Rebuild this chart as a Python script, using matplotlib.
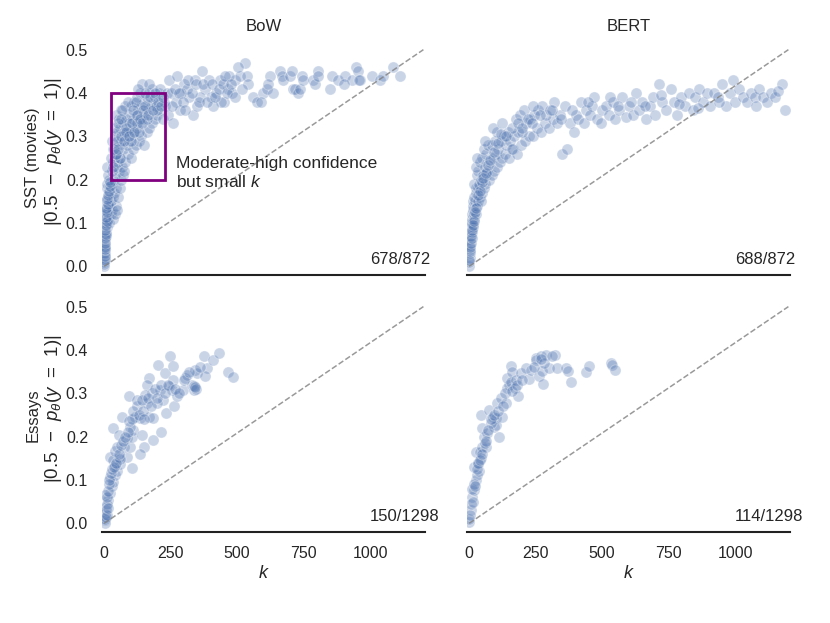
import numpy as np
import matplotlib
matplotlib.use("Agg")
import matplotlib.pyplot as plt
import seaborn as sns
from matplotlib.patches import Rectangle

# values (k, |0.5 - p|)
sst_bow_k = [0, 1, 2, 1, 3, 2, 4, 5, 3, 6,
             8, 4, 10, 7, 12, 5, 14, 9, 16, 11,
             20, 13, 25, 18, 30, 6, 35, 22, 40, 15,
             44, 27, 8, 33, 48, 19, 38, 12, 26, 52,
             45, 31, 10, 58, 36, 20, 62, 41, 15, 55,
             28, 70, 48, 12, 66, 34, 52, 75, 24, 40,
             60, 80, 45, 90, 35, 70, 100, 55, 85, 30,
             110, 65, 95, 42, 120, 75, 50, 105, 130, 88,
             140, 60, 115, 40, 98, 150, 72, 125, 55, 160,
             82, 135, 108, 45, 170, 92, 145, 65, 118, 180,
             155, 78, 128, 190, 100, 165, 52, 140, 200, 112,
             175, 88, 210, 150, 125, 220, 185, 160, 68, 195,
             215, 135, 230, 170, 205, 142, 225, 180, 240, 118,
             38, 58, 48, 76, 102, 132, 94, 62, 84, 145,
             122, 162, 108, 190, 210, 168, 235, 200, 154, 126,
             250, 260, 270, 245, 285, 300, 275, 320, 335, 310,
             350, 290, 368, 380, 340, 400, 420, 395, 436, 360,
             467, 450, 492, 480, 510, 530, 537, 542, 505, 560,
             575, 598, 612, 624, 590, 635, 617, 440, 410, 470,
             662, 669, 673, 699, 706, 711, 718, 730, 737, 744,
             748, 786, 793, 805, 805, 850, 857, 880, 906, 932,
             947, 955, 962, 1006, 1038, 1049, 1086, 1113, 959, 900,
             255, 265, 280, 295, 305, 315, 330, 345, 355, 370,
             385, 405, 415, 430, 445, 455, 460, 475, 490, 520,
             1, 2, 3, 2, 4, 3, 5, 6, 4, 7,
             9, 6, 11, 8, 13, 10, 15, 17, 21, 23,
             33, 43, 53, 63, 73, 83, 93, 103, 113, 123,
             133, 143, 153, 163, 173, 183, 193, 203, 213, 223]
sst_bow_v = [0.00, 0.01, 0.02, 0.03, 0.03, 0.05, 0.04, 0.06, 0.07, 0.08,
             0.07, 0.09, 0.09, 0.10, 0.10, 0.11, 0.12, 0.12, 0.11, 0.13,
             0.10, 0.14, 0.12, 0.14, 0.13, 0.13, 0.11, 0.15, 0.12, 0.16,
             0.14, 0.15, 0.15, 0.16, 0.13, 0.17, 0.17, 0.18, 0.18, 0.16,
             0.18, 0.19, 0.19, 0.18, 0.20, 0.20, 0.20, 0.21, 0.21, 0.22,
             0.22, 0.21, 0.23, 0.23, 0.23, 0.24, 0.24, 0.22, 0.25, 0.25,
             0.25, 0.24, 0.26, 0.26, 0.27, 0.27, 0.25, 0.28, 0.28, 0.29,
             0.27, 0.29, 0.29, 0.30, 0.28, 0.30, 0.31, 0.30, 0.29, 0.31,
             0.30, 0.32, 0.31, 0.32, 0.32, 0.28, 0.33, 0.32, 0.34, 0.31,
             0.34, 0.33, 0.34, 0.35, 0.32, 0.35, 0.34, 0.36, 0.35, 0.33,
             0.35, 0.37, 0.36, 0.34, 0.37, 0.36, 0.33, 0.37, 0.35, 0.38,
             0.37, 0.38, 0.36, 0.38, 0.39, 0.34, 0.38, 0.39, 0.36, 0.37,
             0.39, 0.40, 0.37, 0.40, 0.40, 0.42, 0.38, 0.41, 0.35, 0.38,
             0.27, 0.25, 0.29, 0.31, 0.29, 0.31, 0.33, 0.34, 0.32, 0.36,
             0.33, 0.34, 0.36, 0.39, 0.41, 0.42, 0.40, 0.36, 0.40, 0.41,
             0.40, 0.33, 0.38, 0.43, 0.36, 0.42, 0.44, 0.39, 0.35, 0.41,
             0.37, 0.40, 0.45, 0.41, 0.43, 0.39, 0.40, 0.43, 0.43, 0.39,
             0.41, 0.38, 0.43, 0.40, 0.44, 0.47, 0.44, 0.42, 0.46, 0.39,
             0.38, 0.40, 0.41, 0.44, 0.38, 0.40, 0.42, 0.38, 0.37, 0.44,
             0.45, 0.44, 0.43, 0.44, 0.45, 0.41, 0.41, 0.40, 0.41, 0.44,
             0.43, 0.43, 0.42, 0.45, 0.44, 0.41, 0.44, 0.43, 0.44, 0.43,
             0.46, 0.45, 0.43, 0.44, 0.43, 0.44, 0.46, 0.44, 0.43, 0.42,
             0.37, 0.41, 0.40, 0.38, 0.36, 0.43, 0.40, 0.42, 0.38, 0.42,
             0.38, 0.42, 0.39, 0.41, 0.42, 0.44, 0.40, 0.42, 0.39, 0.41,
             0.005, 0.015, 0.025, 0.04, 0.045, 0.055, 0.065, 0.075, 0.085, 0.095,
             0.105, 0.115, 0.125, 0.135, 0.145, 0.155, 0.165, 0.175, 0.185, 0.195,
             0.23, 0.26, 0.27, 0.30, 0.29, 0.31, 0.30, 0.33, 0.31, 0.35,
             0.34, 0.33, 0.37, 0.35, 0.39, 0.36, 0.40, 0.38, 0.37, 0.39]

sst_bert_k = [0, 1, 2, 3, 2, 4, 5, 4, 6, 7,
              8, 10, 6, 12, 9, 15, 11, 18, 14, 20,
              16, 25, 13, 22, 30, 19, 35, 27, 40, 24,
              45, 32, 50, 20, 38, 55, 28, 60, 44, 65,
              35, 52, 75, 25, 68, 42, 85, 58, 95, 48,
              78, 30, 105, 64, 90, 115, 55, 100, 125, 72,
              135, 85, 110, 150, 97, 140, 165, 120, 60, 180,
              130, 155, 105, 195, 145, 170, 210, 88, 185, 225,
              160, 200, 240, 125, 215, 175, 255, 230, 190, 270,
              205, 285, 245, 300, 220, 260, 315, 275, 330, 240,
              290, 350, 305, 369, 340, 320, 380, 360, 400, 395,
              420, 410, 440, 430, 460, 455, 480, 470, 500, 495,
              515, 525, 540, 550, 565, 575, 590, 600, 615, 627,
              640, 650, 665, 680, 690, 700, 713, 725, 740, 757,
              770, 780, 795, 810, 825, 840, 850, 865, 880, 895,
              905, 920, 935, 950, 965, 980, 993, 1000, 1015, 1030,
              1045, 1060, 1075, 1090, 1105, 1120, 1135, 1150, 1175, 1186,
              1, 3, 5, 7, 9, 11, 13, 17, 21, 26,
              33, 42, 47, 53, 63, 70, 80, 92, 110, 118,
              140, 160, 182, 198, 235, 265, 310, 345, 385, 445,
              530, 560, 610, 660, 720, 790, 860, 940, 1080, 1160]
sst_bert_v = [0.00, 0.01, 0.02, 0.03, 0.04, 0.05, 0.06, 0.07, 0.08, 0.07,
              0.09, 0.08, 0.10, 0.10, 0.11, 0.09, 0.12, 0.11, 0.13, 0.12,
              0.14, 0.12, 0.15, 0.15, 0.14, 0.16, 0.15, 0.17, 0.16, 0.18,
              0.15, 0.18, 0.17, 0.19, 0.19, 0.18, 0.21, 0.19, 0.20, 0.21,
              0.22, 0.21, 0.20, 0.23, 0.22, 0.24, 0.21, 0.23, 0.22, 0.25,
              0.24, 0.25, 0.23, 0.26, 0.25, 0.24, 0.27, 0.26, 0.25, 0.28,
              0.26, 0.28, 0.27, 0.25, 0.29, 0.28, 0.27, 0.29, 0.29, 0.26,
              0.30, 0.29, 0.31, 0.28, 0.31, 0.30, 0.29, 0.32, 0.31, 0.30,
              0.32, 0.31, 0.30, 0.33, 0.33, 0.34, 0.32, 0.34, 0.35, 0.31,
              0.36, 0.33, 0.35, 0.32, 0.34, 0.36, 0.34, 0.37, 0.33, 0.37,
              0.35, 0.26, 0.36, 0.27, 0.35, 0.38, 0.33, 0.37, 0.35, 0.31,
              0.38, 0.34, 0.36, 0.33, 0.37, 0.35, 0.34, 0.39, 0.36, 0.33,
              0.37, 0.35, 0.38, 0.34, 0.36, 0.39, 0.345, 0.37, 0.35, 0.40,
              0.36, 0.38, 0.34, 0.37, 0.39, 0.35, 0.42, 0.38, 0.36, 0.41,
              0.38, 0.35, 0.39, 0.37, 0.40, 0.36, 0.39, 0.41, 0.38, 0.40,
              0.37, 0.40, 0.39, 0.42, 0.37, 0.40, 0.43, 0.38, 0.41, 0.39,
              0.38, 0.40, 0.39, 0.41, 0.39, 0.38, 0.40, 0.39, 0.42, 0.36,
              0.015, 0.035, 0.045, 0.055, 0.065, 0.085, 0.095, 0.105, 0.125, 0.135,
              0.165, 0.175, 0.195, 0.205, 0.215, 0.235, 0.245, 0.265, 0.285, 0.305,
              0.30, 0.27, 0.33, 0.32, 0.33, 0.35, 0.36, 0.34, 0.36, 0.38,
              0.39, 0.37, 0.38, 0.37, 0.395, 0.375, 0.365, 0.38, 0.37, 0.405]

essay_bow_k = [4, 5, 6, 16, 23, 5, 29, 35, 41, 23,
               48, 23, 33, 60, 41, 54, 85, 75, 104, 98,
               85, 104, 110, 98, 35, 54, 66, 95, 123, 135,
               142, 148, 135, 161, 167, 161, 170, 185, 179, 185,
               204, 211, 213, 223, 229, 233, 248, 254, 260, 260,
               263, 245, 273, 298, 305, 311, 329, 336, 342, 348,
               376, 386, 380, 411, 430, 467, 486, 336, 198, 154,
               116, 41, 60, 48, 123, 142,
               2, 3, 8, 10, 12, 15, 18, 20, 26, 30,
               38, 45, 55, 62, 70, 80, 88, 92, 105, 110,
               130, 145, 150, 165, 175, 190, 200, 215, 230, 240,
               265, 280, 300, 320, 345, 340, 360, 6, 9, 14]
essay_bow_v = [0.007, 0.022, 0.038, 0.053, 0.069, 0.065, 0.085, 0.096, 0.112, 0.108,
               0.12, 0.153, 0.145, 0.137, 0.135, 0.153, 0.153, 0.176, 0.128, 0.176,
               0.196, 0.2, 0.215, 0.223, 0.22, 0.204, 0.246, 0.293, 0.27, 0.243,
               0.204, 0.176, 0.161, 0.277, 0.335, 0.32, 0.246, 0.193, 0.30, 0.243,
               0.366, 0.308, 0.211, 0.285, 0.346, 0.254, 0.385, 0.308, 0.362, 0.331,
               0.27, 0.316, 0.293, 0.308, 0.335, 0.343, 0.32, 0.308, 0.354, 0.346,
               0.385, 0.358, 0.339, 0.377, 0.393, 0.35, 0.337, 0.316, 0.277, 0.297,
               0.246, 0.168, 0.149, 0.176, 0.285, 0.285,
               0.0, 0.01, 0.03, 0.045, 0.06, 0.075, 0.09, 0.1, 0.115, 0.125,
               0.13, 0.14, 0.16, 0.18, 0.19, 0.2, 0.21, 0.235, 0.24, 0.26,
               0.25, 0.26, 0.24, 0.29, 0.27, 0.31, 0.29, 0.32, 0.30, 0.32,
               0.31, 0.30, 0.33, 0.35, 0.31, 0.315, 0.36, 0.015, 0.02, 0.035]

essay_bert_k = [0, 0, 6, 12, 19, 12, 25, 31, 38, 19,
                25, 40, 50, 63, 44, 35, 56, 50, 69, 44,
                75, 88, 100, 94, 113, 100, 81, 106, 125, 119,
                138, 144, 150, 144, 157, 163, 157, 175, 173, 185,
                194, 213, 226, 231, 251, 253, 269, 263, 276, 273,
                288, 301, 323, 332, 363, 370, 382, 441, 451, 532,
                536, 549,
                3, 8, 15, 18, 22, 28, 33, 40, 48, 58,
                65, 72, 84, 95, 110, 128, 135, 160, 180, 200,
                245, 280, 310, 270]
essay_bert_v = [0.003, 0.01, 0.03, 0.061, 0.076, 0.08, 0.1, 0.111, 0.12, 0.13,
                0.165, 0.165, 0.177, 0.177, 0.15, 0.138, 0.2, 0.219, 0.208, 0.25,
                0.262, 0.246, 0.243, 0.223, 0.2, 0.227, 0.231, 0.277, 0.246, 0.288,
                0.277, 0.312, 0.319, 0.335, 0.362, 0.35, 0.327, 0.331, 0.312, 0.293,
                0.346, 0.358, 0.333, 0.354, 0.381, 0.377, 0.385, 0.34, 0.321, 0.352,
                0.389, 0.358, 0.389, 0.358, 0.358, 0.352, 0.327, 0.35, 0.362, 0.37,
                0.366, 0.354,
                0.02, 0.045, 0.05, 0.09, 0.085, 0.125, 0.14, 0.145, 0.16, 0.185,
                0.19, 0.215, 0.24, 0.25, 0.26, 0.27, 0.30, 0.305, 0.32, 0.33,
                0.36, 0.37, 0.385, 0.38]

col_titles = ["BoW", "BERT"]
row_labels = ["SST (movies)", "Essays"]
counts = [["678/872", "688/872"], ["150/1298", "114/1298"]]
box_k = (25, 230)
box_v = (0.2, 0.4)
note = "Moderate-high confidence\nbut small $k$"
ylab_math = r"$|0.5\;\,-\;\,p_\theta(y\;\,=\;\,1)|$"

sns.set_theme(style="white", context="notebook")
plt.rcParams["font.family"] = ["Liberation Sans", "DejaVu Sans"]
plt.rcParams["mathtext.fontset"] = "custom"
plt.rcParams["mathtext.rm"] = "Liberation Sans"
plt.rcParams["mathtext.it"] = "Liberation Sans:italic"

data = [[(sst_bow_k, sst_bow_v), (sst_bert_k, sst_bert_v)],
        [(essay_bow_k, essay_bow_v), (essay_bert_k, essay_bert_v)]]

fig, axes = plt.subplots(2, 2, figsize=(8.3, 6.23), dpi=100, sharex=True, sharey=True)
fig.subplots_adjust(left=0.1229, right=0.9518, bottom=0.1461, top=0.9342,
                    wspace=0.13, hspace=0.098)
blue = sns.color_palette("deep")[0]
for r in range(2):
    for c in range(2):
        ax = axes[r, c]
        k, v = data[r][c]
        ax.scatter(k, v, s=64, color=blue, alpha=0.3, edgecolor="white", linewidth=0.8)
        ax.plot([0, 1200], [0, 0.5], "--", color="grey", alpha=0.8, lw=1.1)
        ax.text(0.83, 0.068, counts[r][c], transform=ax.transAxes, ha="left",
                va="center", fontsize=12)
        for s in ["left", "right", "top"]:
            ax.spines[s].set_visible(False)
        ax.spines["bottom"].set_color("#222222")
        ax.spines["bottom"].set_linewidth(1.5)
        ax.tick_params(labelsize=11.5, length=0, pad=10)
        if r == 0:
            ax.set_title(col_titles[c], fontsize=12, pad=7)
        else:
            ax.set_xlabel("$k$", fontsize=13, labelpad=3)
        if c == 0:
            ax.text(-0.214, 0.5, row_labels[r], transform=ax.transAxes, rotation=90,
                    ha="center", va="center", fontsize=12)
            ax.text(-0.150, 0.525, ylab_math, transform=ax.transAxes, rotation=90,
                    ha="center", va="center", fontsize=13.5)
ax = axes[0, 0]
ax.set_xlim(-8, 1206)
ax.set_ylim(-0.02, 0.52)
ax.set_xticks([0, 250, 500, 750, 1000])
ax.set_yticks([0.0, 0.1, 0.2, 0.3, 0.4, 0.5])
ax.add_patch(Rectangle((box_k[0], box_v[0]), box_k[1] - box_k[0], box_v[1] - box_v[0],
                       fill=False, edgecolor="purple", lw=2, zorder=5))
ax.text(270, 0.215, note, fontsize=12.5, va="center", ha="left")
fig.savefig("out.png", dpi=100)
